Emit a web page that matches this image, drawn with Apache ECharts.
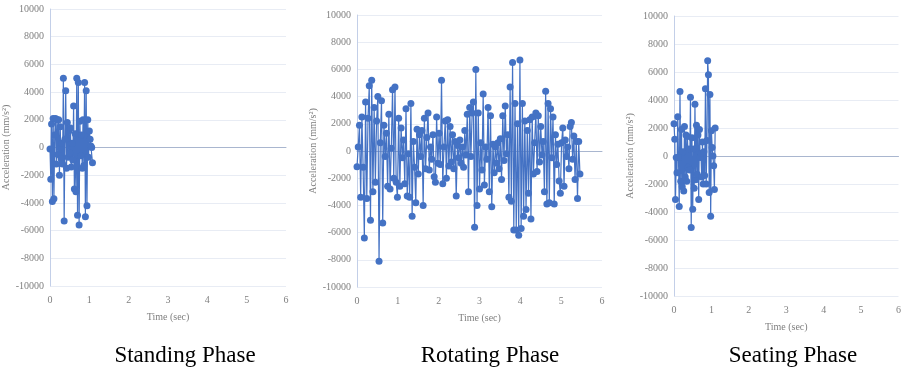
<!DOCTYPE html>
<html>
<head>
<meta charset="utf-8">
<script src="https://cdn.jsdelivr.net/npm/echarts@6/dist/echarts.min.js"></script>
<style>
  html, body { margin: 0; padding: 0; background: #fff; }
  #main { width: 904px; height: 370px; }
</style>
</head>
<body>
<div id="main"></div>
<script>
// sample spacing (sec) of each recording
var standingStep = 0.02;
var rotatingStep = 0.03;
var seatingStep = 0.02;

// acceleration readings, mm/s^2
var standingAcc = [
    -100, -2300, 1700, -3900, 2100, -3700, 900, 2100, -1200, 2000,
    -500, 2000, -2000, 1500, -800, 300, -1200, 5000, -5300, 600,
    4100, -1500, 1800, -700, 1200, -400, 1400, -1400, 300, -900,
    3000, -3000, 1000, -3200, 5000, -4900, 4700, -5600, 1900, -600,
    900, -1500, 2000, -1300, 4700, -5000, 4100, -4200, 2000, -700,
    1200, 600, 100, 0, -1100
];

var rotatingAcc = [
    -1150, 300, 1900, -3400, 2500, -1200, -6400, 3600, -3500, 2400,
    4800, -5100, 5200, -3000, 3200, -2300, 2200, 4000, -8100, 600,
    3700, -5300, 1900, -400, 1300, -2600, 2700, -2800, 200, 4500,
    -2000, 4700, -2300, -3400, 2400, -2600, 1700, -500, 800, -2400,
    3100, -3300, -200, -3400, 3500, -4800, 700, -1200, -3800, 1600,
    -1700, 1200, -400, 1500, -4000, 2400, -1300, 1000, 2800, -1400,
    300, -600, 1200, -1900, -2300, 2500, -900, 1300, -1000, 5200,
    -2400, 300, 2200, -2000, 2300, -1100, 1800, -800, 1200, -1300,
    700, -3300, 400, -500, 800, -900, 300, -1200, 1500, -300,
    2700, -3000, 3200, -400, 2800, 3600, -5600, 6000, -4000, 2800,
    -2800, 600, -1400, 4200, -2500, 300, -600, 3200, -3000, 2600,
    -4100, 500, -1600, 300, -900, 600, -1300, 900, -2100, 2600,
    -700, 3300, -200, 1200, -3400, 4700, -3700, 6500, -5800, 3500,
    -5800, 2000, -6200, 6700, -5700, 3500, -4800, 2200, -4300, 1500,
    -3100, 2300, -5000, 2500, -1700, 600, 2800, -1500, 2600, -800,
    1800, -300, 700, -3000, 4400, -3900, 3500, -3800, 3100, -500,
    2500, -3900, 1200, -1000, 500, -2200, -3100, 600, 1700, -2600,
    800, -400, 300, -1300, 1800, 2100, -600, 1100, -2100, 700,
    -3500, 700, -1700
];

var seatingAcc = [
    2300, 1200, -3100, -100, -1200, 2800, -100, -3600, 4600, -1800,
    1900, -2200, 300, -2500, 2100, -1500, 1500, -1800, 1400, -800,
    500, -1000, 4200, -5100, 1300, -3800, 500, -2300, 3700, -1700,
    2200, -1300, 1500, -3100, 1900, -100, 200, -1500, 1000, -2000,
    300, -1400, 4800, -2000, 1100, 6800, 5800, -2600, 4400, -4300,
    1800, 600, 0, -700, -2400, 2000
];

var xTicks = [0, 1, 2, 3, 4, 5, 6];
var phaseNames = ['Standing Phase', 'Rotating Phase', 'Seating Phase'];

function pairs(values, step) {
    return values.map(function (v, i) { return [+(i * step).toFixed(3), v]; });
}

var serif = '"Liberation Serif", "DejaVu Serif", serif';
var grids = [
    { left: 50, top: 9, width: 236, height: 277 },
    { left: 357, top: 15, width: 245, height: 272 },
    { left: 674, top: 16, width: 229, height: 280 }
];
var titleX = [185, 490, 793];
var seriesData = [
    pairs(standingAcc, standingStep),
    pairs(rotatingAcc, rotatingStep),
    pairs(seatingAcc, seatingStep)
];

var option = {
    animation: false,
    backgroundColor: '#fff',
    grid: grids,
    xAxis: [],
    yAxis: [],
    series: [],
    graphic: []
};

for (var g = 0; g < 3; g++) {
    // bottom axis: labels and name only
    option.xAxis.push({
        gridIndex: g,
        type: 'value',
        min: xTicks[0],
        max: xTicks[xTicks.length - 1],
        interval: 1,
        name: 'Time (sec)',
        nameLocation: 'middle',
        nameGap: 26,
        nameTextStyle: { fontFamily: serif, fontSize: 10, color: '#7f7f7f' },
        axisLine: { show: false, onZero: false },
        axisTick: { show: false },
        splitLine: { show: false },
        axisLabel: { fontFamily: serif, fontSize: 10, color: '#7f7f7f', margin: 9 }
    });
    // zero line, drawn under the series
    option.xAxis.push({
        gridIndex: g,
        type: 'value',
        min: xTicks[0],
        max: xTicks[xTicks.length - 1],
        axisLine: { show: true, onZero: true, lineStyle: { color: '#a9b6cf', width: 1 } },
        axisTick: { show: false },
        axisLabel: { show: false },
        splitLine: { show: false }
    });
    option.yAxis.push({
        gridIndex: g,
        type: 'value',
        min: -10000,
        max: 10000,
        interval: 2000,
        name: 'Acceleration (mm/s²)',
        nameLocation: 'middle',
        nameGap: 31,
        nameTextStyle: { fontFamily: serif, fontSize: 10, color: '#7f7f7f' },
        axisLine: { show: true, lineStyle: { color: '#c3cfe8', width: 1 } },
        axisTick: { show: false },
        splitLine: { lineStyle: { color: '#e8ecf4', width: 1 } },
        axisLabel: {
            fontFamily: serif, fontSize: 10, color: '#7f7f7f', margin: 6,
            formatter: function (v) { return String(v); }
        }
    });
    option.series.push({
        type: 'line',
        xAxisIndex: g * 2,
        yAxisIndex: g,
        data: seriesData[g],
        symbol: 'circle',
        symbolSize: 7,
        showSymbol: true,
        itemStyle: { color: '#4472C4' },
        lineStyle: { color: '#4472C4', width: 1.2 }
    });
    option.graphic.push({
        type: 'text',
        x: titleX[g],
        y: 344,
        style: {
            text: phaseNames[g],
            font: '23px ' + serif,
            fill: '#000',
            textAlign: 'center'
        }
    });
}

var chart = echarts.init(document.getElementById('main'));
chart.setOption(option);
</script>
</body>
</html>
